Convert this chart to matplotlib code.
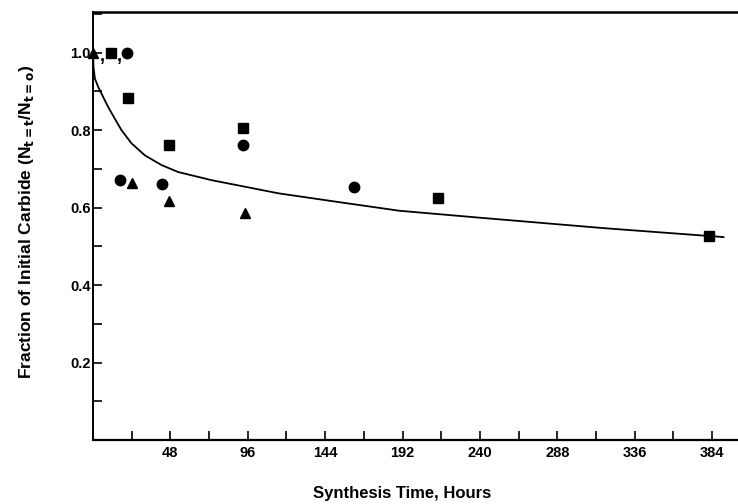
import matplotlib.pyplot as plt
import numpy as np
from matplotlib.ticker import MultipleLocator

# fitted curve
curve_t = [0, 0.3, 1.2, 3.2, 6.3, 9.4, 13.5, 17.7, 23.9, 32.2, 42.5, 52.8,
           73.5, 94.3, 115, 153, 190, 240, 317, 391]
curve_y = [1.01, 0.963, 0.933, 0.912, 0.886, 0.860, 0.830, 0.800, 0.766,
           0.735, 0.710, 0.692, 0.671, 0.654, 0.637, 0.614, 0.592, 0.574,
           0.547, 0.524]

# measured points (hours, fraction)
square_t = [22, 47, 93, 214, 382]
square_y = [0.883, 0.761, 0.805, 0.624, 0.526]
circle_t = [17, 43, 93, 162]
circle_y = [0.671, 0.661, 0.761, 0.653]
triangle_t = [24, 47, 94]
triangle_y = [0.663, 0.617, 0.586]

# starting value 1.0 for all three, drawn side by side as "▲,■,●"
start_t = [0, 11, 21]
start_y = [1.0, 1.0, 1.0]

xticks = [48, 96, 144, 192, 240, 288, 336, 384]
yticks = [0.2, 0.4, 0.6, 0.8, 1.0]

plt.rcParams['font.family'] = ['Liberation Sans', 'DejaVu Sans']

fig = plt.figure(figsize=(7.38, 5.04), dpi=100)
ax = fig.add_axes([0.126, 0.127, 0.874, 0.849])

ax.plot(curve_t, curve_y, color='black', lw=1.3)
ax.plot(square_t, square_y, 's', color='black', ms=7.5, ls='none')
ax.plot(circle_t, circle_y, 'o', color='black', ms=7.5, ls='none')
ax.plot(triangle_t, triangle_y, '^', color='black', ms=7.5, ls='none')

ax.plot(start_t[0], start_y[0], '^', color='black', ms=7.5, clip_on=False)
ax.plot(start_t[1], start_y[1], 's', color='black', ms=6.5, clip_on=False)
ax.plot(start_t[2], start_y[2], 'o', color='black', ms=7.5, clip_on=False)
for cx in [(start_t[0] + start_t[1]) / 2 + 0.5, (start_t[1] + start_t[2]) / 2 + 0.5]:
    ax.text(cx, 0.99, ',', ha='center', va='center', fontsize=13,
            fontweight='bold')

ax.set_xlim(0, 400)
ax.set_ylim(0, 1.105)

ax.set_xticks(xticks)
ax.set_xticklabels([str(t) for t in xticks])
ax.xaxis.set_minor_locator(MultipleLocator(24))
ax.set_yticks(yticks)
ax.set_yticklabels(['%.1f' % v for v in yticks])
ax.yaxis.set_minor_locator(MultipleLocator(0.1))

ax.tick_params(axis='both', which='both', direction='in', length=6.5,
               width=1.2, labelsize=10.5)
ax.tick_params(axis='x', pad=4)
ax.tick_params(axis='y', pad=1.5)
for lab in ax.get_xticklabels() + ax.get_yticklabels():
    lab.set_fontweight('bold')

ax.spines['right'].set_visible(False)
ax.spines['left'].set_linewidth(1.4)
ax.spines['bottom'].set_linewidth(1.6)
ax.spines['top'].set_linewidth(1.8)

ax.set_xlabel('Synthesis Time, Hours', fontsize=12, fontweight='bold')
ax.xaxis.set_label_coords(0.48, -0.126)
ax.xaxis.label.set_va('center')
ax.set_ylabel(r'Fraction of Initial Carbide (N$_{\mathbf{t=t}}$/N$_{\mathbf{t=o}}$)',
              fontsize=12.5, fontweight='bold')
ax.yaxis.set_label_coords(-0.103, 0.51)
ax.yaxis.label.set_va('center')

fig.savefig('out.png', dpi=100)
